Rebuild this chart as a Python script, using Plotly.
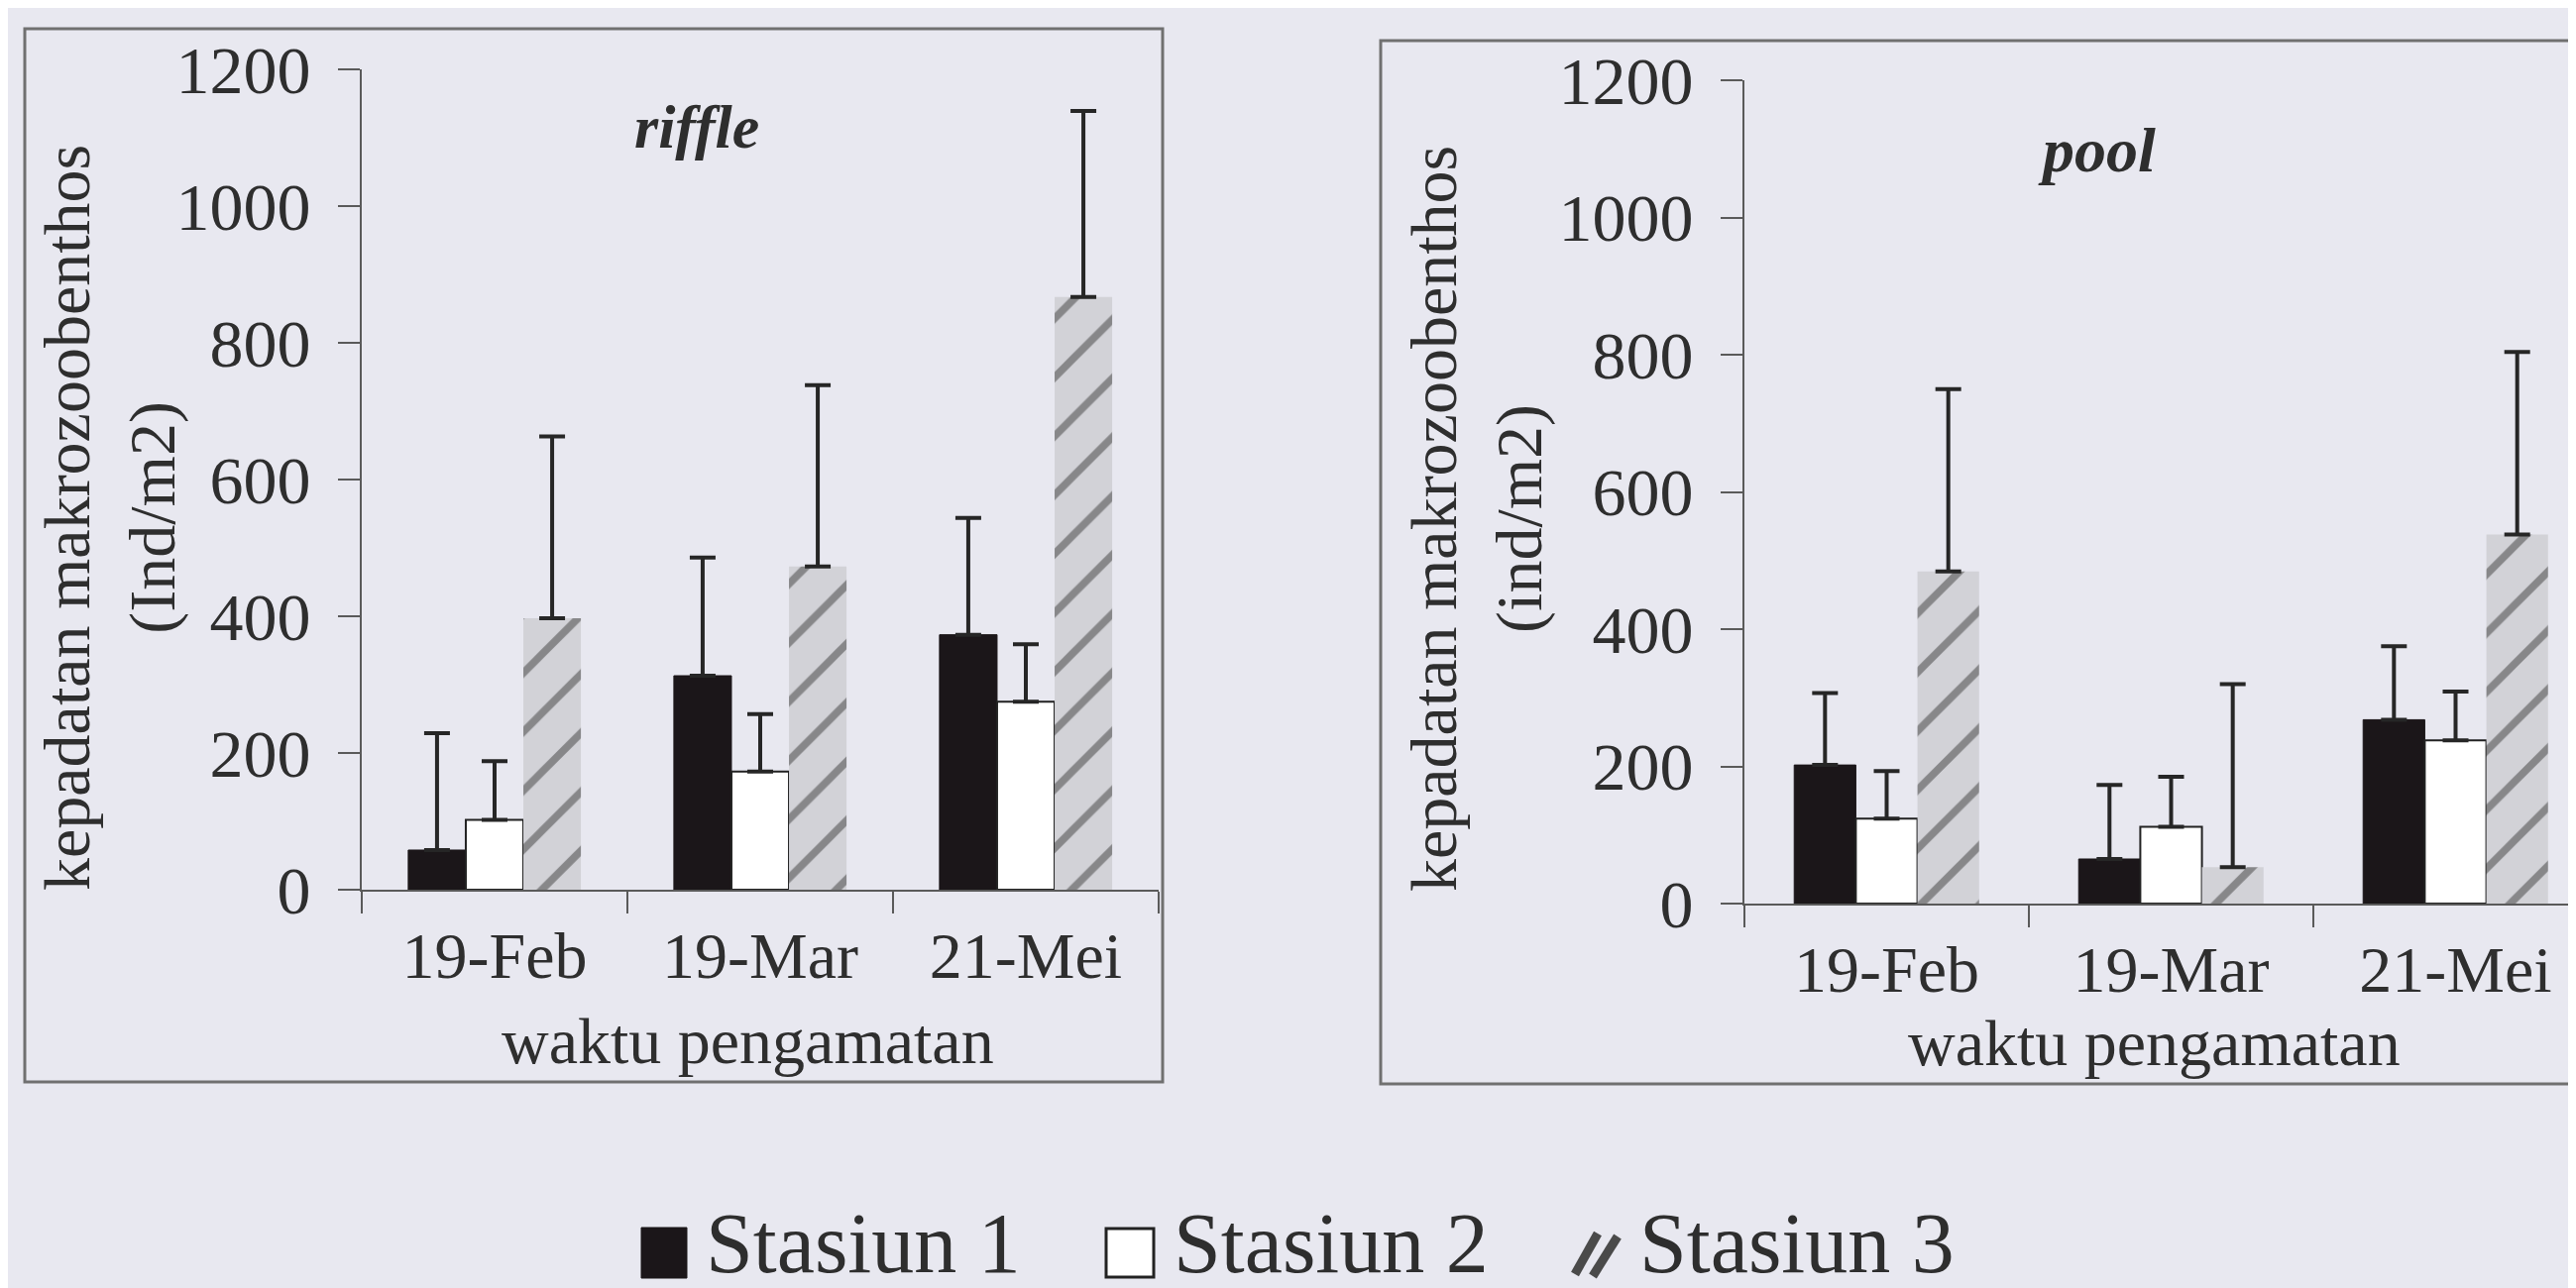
import plotly.graph_objects as go

# ---------------- data ----------------
categories = ["19-Feb", "19-Mar", "21-Mei"]
stations = ["Stasiun 1", "Stasiun 2", "Stasiun 3"]

riffle_s1 = [58, 313, 373]
riffle_s2 = [102, 173, 275]
riffle_s3 = [397, 473, 867]
riffle_s1_err = [171, 173, 171]
riffle_s2_err = [86, 84, 84]
riffle_s3_err = [266, 265, 272]

pool_s1 = [202, 65, 268]
pool_s2 = [124, 112, 238]
pool_s3 = [484, 53, 538]
pool_s1_err = [105, 108, 107]
pool_s2_err = [69, 73, 71]
pool_s3_err = [266, 267, 266]

y_ticks = [0, 200, 400, 600, 800, 1000, 1200]

# ---------------- layout helpers ----------------
W, H = 2599, 1300
OFF = 8  # page body margin offset
def px(x):
    return (x - OFF) / W
def py(y):
    return (H - (y - OFF)) / H

BG = "#e8e8f0"
TXT = "#2e2e2e"
AX = "#5a5a5a"
FONT = "Liberation Serif"

styles = [
    dict(color="#1b1619", line=dict(color="#1b1619", width=1)),
    dict(color="#ffffff", line=dict(color="#222222", width=2)),
    dict(color="#cfcfd4", line=dict(color="#cfcfd4", width=0),
         pattern=dict(shape="/", fgcolor="#3c3c3c", bgcolor="#d2d2d7",
                      size=42, solidity=0.18)),
]

fig = go.Figure()

panels = [
    ("x", "y", [riffle_s1, riffle_s2, riffle_s3], [riffle_s1_err, riffle_s2_err, riffle_s3_err]),
    ("x2", "y2", [pool_s1, pool_s2, pool_s3], [pool_s1_err, pool_s2_err, pool_s3_err]),
]
for xa, ya, vals, errs in panels:
    for i in range(3):
        fig.add_trace(go.Bar(
            x=categories, y=vals[i], name=stations[i],
            xaxis=xa, yaxis=ya, showlegend=False,
            marker=styles[i],
            error_y=dict(type="data", array=errs[i], arrayminus=[0, 0, 0],
                         symmetric=False, color="#262626", thickness=4, width=13),
        ))

xaxis_common = dict(
    type="category", tickson="boundaries", ticks="outside", ticklen=22,
    tickwidth=2, tickcolor=AX, showline=True, linecolor=AX, linewidth=2,
    showgrid=False, zeroline=False, fixedrange=True, automargin=False,
    tickfont=dict(family=FONT, size=66, color=TXT), ticklabelstandoff=8,
)
yaxis_common = dict(
    range=[0, 1200], tickvals=y_ticks, ticks="outside", ticklen=22,
    tickwidth=2, tickcolor=AX, showline=True, linecolor=AX, linewidth=2,
    showgrid=False, zeroline=False, fixedrange=True, automargin=False,
    tickfont=dict(family=FONT, size=68, color=TXT), ticklabelstandoff=14,
)

# right panel runs past the picture's right edge
right_cat = 287.0
right_end = -0.5 + (W + OFF - 1760) / right_cat

fig.update_layout(
    width=W, height=H, autosize=False,
    margin=dict(l=0, r=0, t=0, b=0, pad=0),
    paper_bgcolor=BG, plot_bgcolor=BG,
    barmode="group", bargap=0.35, bargroupgap=0,
    showlegend=False,
    xaxis=dict(domain=[px(365), px(1169)], range=[-0.5, 2.5], anchor="y", **xaxis_common),
    yaxis=dict(domain=[py(898), py(70)], anchor="x", **yaxis_common),
    xaxis2=dict(domain=[px(1760), 1.0], range=[-0.5, right_end], anchor="y2", **xaxis_common),
    yaxis2=dict(domain=[py(912), py(81)], anchor="x2", **yaxis_common),
)

# panel frames
fig.add_shape(type="rect", xref="paper", yref="paper",
              x0=px(25), x1=px(1173), y0=py(1092), y1=py(29),
              line=dict(color="#707070", width=3), fillcolor="rgba(0,0,0,0)", layer="below")
fig.add_shape(type="rect", xref="paper", yref="paper",
              x0=px(1393), x1=px(2660), y0=py(1094), y1=py(41),
              line=dict(color="#707070", width=3), fillcolor="rgba(0,0,0,0)", layer="below")

ann = []
def text(x, y, s, size, angle=0, xanchor="center", yanchor="middle", bold=False, italic=False):
    t = s
    if bold:
        t = "<b>" + t + "</b>"
    if italic:
        t = "<i>" + t + "</i>"
    ann.append(dict(x=px(x), y=py(y), xref="paper", yref="paper", text=t,
                    showarrow=False, textangle=angle, xanchor=xanchor, yanchor=yanchor,
                    font=dict(family=FONT, size=size, color=TXT)))

# panel titles
text(703, 128, "riffle", 62, bold=True, italic=True)
text(2115, 152, "pool", 64, bold=True, italic=True)
# y titles (two lines each)
text(111, 523, "kepadatan makrozoobenthos<br>(Ind/m2)", 66, angle=-90)
text(1490, 524, "kepadatan makrozoobenthos<br>(ind/m2)", 66, angle=-90)
# x titles
text(754, 1050, "waktu pengamatan", 66)
text(2173, 1052, "waktu pengamatan", 66)

# legend (manual, large swatches)
fig.add_shape(type="rect", xref="paper", yref="paper",
              x0=px(647), x1=px(693), y0=py(1290), y1=py(1239),
              line=dict(color="#1b1619", width=1), fillcolor="#1b1619")
fig.add_shape(type="rect", xref="paper", yref="paper",
              x0=px(1116), x1=px(1164), y0=py(1289), y1=py(1240),
              line=dict(color="#222222", width=3), fillcolor="#ffffff")
for (a, b, c, d) in [(1589, 1286, 1612, 1245), (1607, 1288, 1632, 1248)]:
    fig.add_shape(type="line", xref="paper", yref="paper",
                  x0=px(a), y0=py(b), x1=px(c), y1=py(d),
                  line=dict(color="#4a4a4a", width=9))
LEG_Y = 1305
text(710, LEG_Y, "Stasiun 1", 86, xanchor="left", yanchor="bottom")
text(1182, LEG_Y, "Stasiun 2", 86, xanchor="left", yanchor="bottom")
text(1652, LEG_Y, "Stasiun 3", 86, xanchor="left", yanchor="bottom")

fig.update_layout(annotations=ann)
fig.write_html("out.html")
